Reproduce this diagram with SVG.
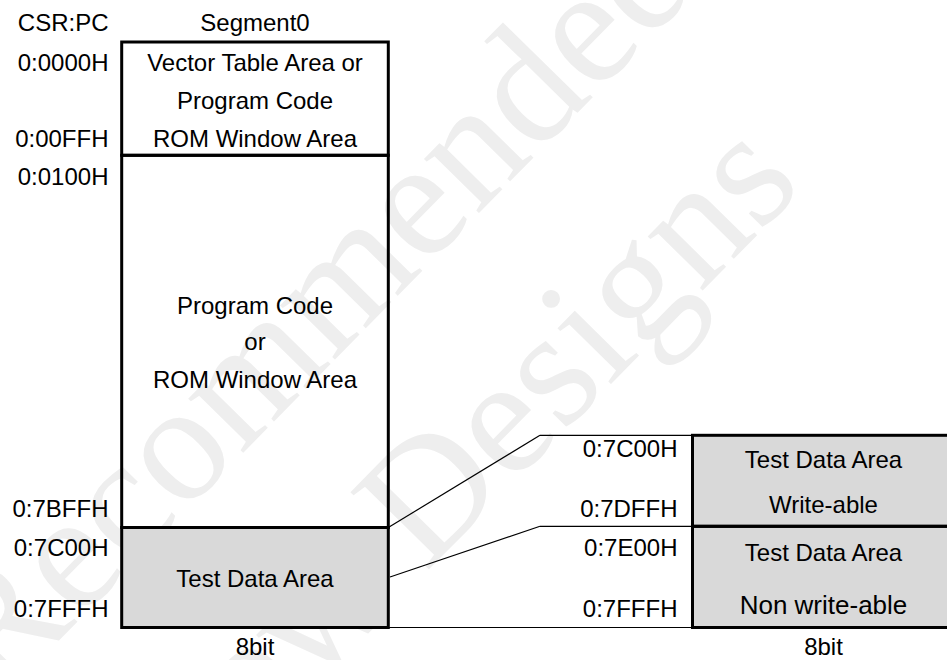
<svg xmlns="http://www.w3.org/2000/svg" width="947" height="660" viewBox="0 0 947 660">
<style>
.t{font-family:"Liberation Sans",Arial,sans-serif;font-size:24px;fill:#000}
.m{text-anchor:middle}
.e{text-anchor:end}
.box{fill:none;stroke:#000;stroke-width:3}
.fill{fill:#d9d9d9;stroke:none}
.wm{font-family:"Liberation Serif","Times New Roman",serif;font-size:168px;fill:#eeeeee;text-anchor:middle}
.ln{stroke:#000;stroke-width:1.2;fill:none}
</style>
<rect width="947" height="660" fill="#fff"/>
<g id="watermark" transform="translate(249,447) rotate(-45.5)">
<text class="wm" x="0" y="0">Not Recommended</text>
<text class="wm" x="6" y="214">for New Designs</text>
</g>
<g id="fills">
<rect class="fill" x="121.7" y="527.5" width="266.6" height="100"/>
<rect class="fill" x="692.5" y="435.3" width="270" height="192.2"/>
</g>
<g id="connectors">
<line class="ln" x1="388.3" y1="527.5" x2="540" y2="435.3"/>
<line class="ln" x1="390" y1="577" x2="540" y2="526.3"/>
<line class="ln" x1="540" y1="435.3" x2="692.5" y2="435.3"/>
<line class="ln" x1="540" y1="526.3" x2="692.5" y2="526.3"/>
<line class="ln" x1="388.3" y1="627.5" x2="692.5" y2="627.5"/>
</g>
<g id="headers">
<text class="t e" x="108.5" y="31">CSR:PC</text>
<text class="t m" x="255" y="31">Segment0</text>
</g>
<g id="addr-left">
<text class="t e" x="108.5" y="71">0:0000H</text>
<text class="t e" x="108.5" y="147">0:00FFH</text>
<text class="t e" x="108.5" y="185">0:0100H</text>
<text class="t e" x="108.5" y="517">0:7BFFH</text>
<text class="t e" x="108.5" y="556">0:7C00H</text>
<text class="t e" x="108.5" y="617">0:7FFFH</text>
</g>
<g id="vector-area">
<rect class="box" x="121.7" y="42" width="266.6" height="113.3"/>
<text class="t m" x="255" y="71">Vector Table Area or</text>
<text class="t m" x="255" y="108.5">Program Code</text>
<text class="t m" x="255" y="147">ROM Window Area</text>
</g>
<g id="program-area">
<rect class="box" x="121.7" y="155.3" width="266.6" height="372.2"/>
<text class="t m" x="255" y="313.5">Program Code</text>
<text class="t m" x="255" y="350">or</text>
<text class="t m" x="255" y="387.5">ROM Window Area</text>
</g>
<g id="test-area">
<rect class="box" x="121.7" y="527.5" width="266.6" height="100"/>
<text class="t m" x="255" y="586.5">Test Data Area</text>
</g>
<text class="t m" x="255" y="655">8bit</text>
<g id="addr-right">
<text class="t e" x="677.5" y="457">0:7C00H</text>
<text class="t e" x="677.5" y="517">0:7DFFH</text>
<text class="t e" x="677.5" y="556">0:7E00H</text>
<text class="t e" x="677.5" y="617">0:7FFFH</text>
</g>
<g id="test-writeable">
<rect class="box" x="692.5" y="435.3" width="270" height="91"/>
<text class="t m" x="823.5" y="468">Test Data Area</text>
<text class="t m" x="823.5" y="513">Write-able</text>
</g>
<g id="test-nonwriteable">
<rect class="box" x="692.5" y="526.3" width="270" height="101.2"/>
<text class="t m" x="823.5" y="561">Test Data Area</text>
<text class="t m" x="823.5" y="613.5" style="font-size:26px">Non write-able</text>
</g>
<text class="t m" x="823.5" y="655">8bit</text>
</svg>
